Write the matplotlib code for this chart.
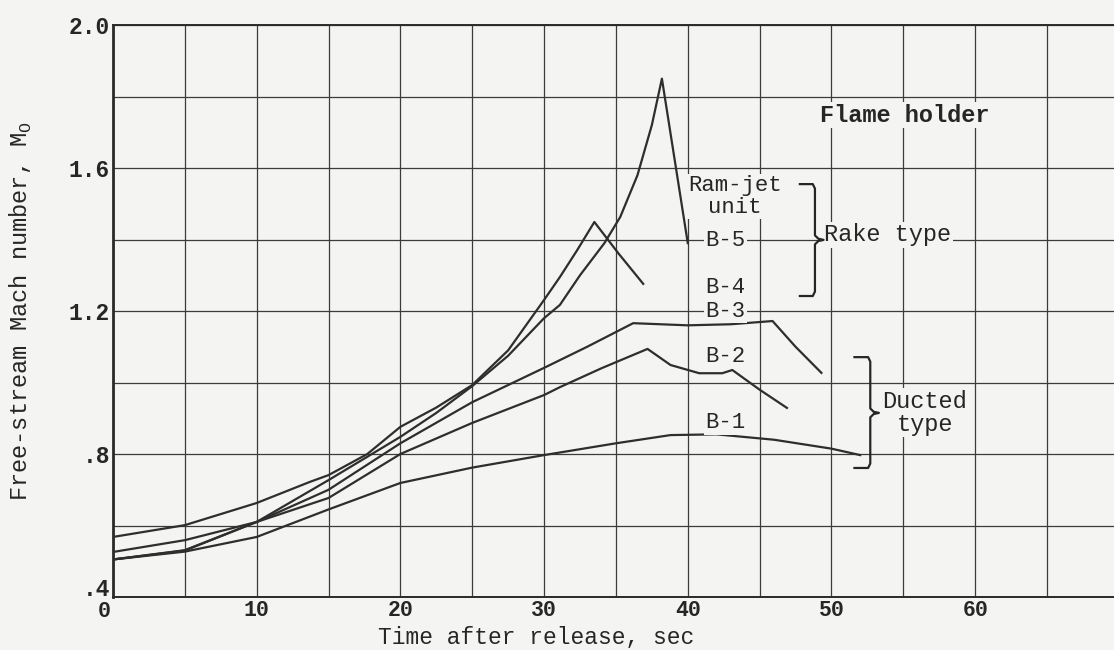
import numpy as np
import matplotlib.pyplot as plt
import matplotlib.transforms as mtransforms
from matplotlib.ticker import MultipleLocator, FixedLocator

plt.rcParams['font.family'] = ['Liberation Mono', 'DejaVu Sans']

# time (s) and free-stream Mach number
t_b1 = [0, 5, 10, 15, 20, 25, 30, 35, 38.8, 42, 46, 50, 52]
m_b1 = [0.505, 0.527, 0.568, 0.645, 0.719, 0.762, 0.797, 0.83, 0.853, 0.855, 0.84, 0.815, 0.797]

t_b2 = [0, 5, 10, 15, 20, 25, 30, 31.1, 34, 37.2, 38.8, 40.8, 42.4, 43.1, 45, 46.9]
m_b2 = [0.526, 0.559, 0.61, 0.677, 0.80, 0.887, 0.965, 0.987, 1.04, 1.094, 1.049, 1.026, 1.026, 1.035, 0.98, 0.929]

t_b3 = [0, 5, 10, 15, 20, 25, 30, 33, 36.2, 40, 43, 45.9, 47.5, 49.3]
m_b3 = [0.505, 0.531, 0.61, 0.70, 0.83, 0.945, 1.041, 1.10, 1.166, 1.16, 1.163, 1.172, 1.10, 1.027]

t_b4 = [0, 5, 10, 13.7, 15, 17.7, 20, 22.5, 25, 27.5, 30, 31.1, 32.3, 33.5, 35.2, 36.9]
m_b4 = [0.568, 0.601, 0.663, 0.722, 0.741, 0.80, 0.876, 0.93, 0.993, 1.09, 1.231, 1.295, 1.37, 1.449, 1.36, 1.276]

t_b5 = [0, 5, 10, 15, 20, 22.5, 25, 27.5, 30, 31.1, 32.5, 34.2, 35.3, 36.5, 37.5, 38.2, 40.0]
m_b5 = [0.505, 0.53, 0.61, 0.727, 0.848, 0.915, 0.99, 1.075, 1.18, 1.217, 1.30, 1.39, 1.463, 1.58, 1.72, 1.85, 1.39]

curves = [(t_b1, m_b1), (t_b2, m_b2), (t_b3, m_b3), (t_b4, m_b4), (t_b5, m_b5)]

unit_labels = ['B-5', 'B-4', 'B-3', 'B-2', 'B-1']
unit_label_pos = [(42.6, 1.396), (42.6, 1.267), (42.6, 1.200), (42.6, 1.074), (42.6, 0.887)]

paper = '#f4f4f2'
ink = '#2e2e2e'
txt = '#262626'

fig = plt.figure(figsize=(11.14, 6.5), dpi=100, facecolor=paper)
ax = fig.add_axes([0.1014, 0.0815, 0.8986, 0.88])
ax.set_facecolor(paper)

for t, m in curves:
    ax.plot(t, m, color=ink, lw=1.6, zorder=3)

ax.set_xlim(0, 69.66)
ax.set_ylim(0.4, 2.0)
ax.xaxis.set_major_locator(FixedLocator([0, 10, 20, 30, 40, 50, 60]))
ax.xaxis.set_minor_locator(MultipleLocator(5))
ax.yaxis.set_major_locator(FixedLocator([0.4, 0.8, 1.2, 1.6, 2.0]))
ax.yaxis.set_minor_locator(MultipleLocator(0.2))
ax.set_yticklabels(['.4', '.8', '1.2', '1.6', '2.0'])
ax.grid(which='both', color='#3c3c3c', lw=0.9)
ax.set_axisbelow(True)
ax.tick_params(which='both', length=0, colors=txt)
ax.tick_params(axis='x', pad=2, labelsize=15.5)
ax.tick_params(axis='y', pad=2, labelsize=16.5)
for lab in ax.get_xticklabels() + ax.get_yticklabels():
    lab.set_fontweight('bold')

# nudge the two labels that meet at the corner apart
xlabs = ax.get_xticklabels()
ylabs = ax.get_yticklabels()
xlabs[0].set_transform(xlabs[0].get_transform() +
                       mtransforms.ScaledTranslation(-9 / 100, -1 / 100, fig.dpi_scale_trans))
ylabs[0].set_transform(ylabs[0].get_transform() +
                       mtransforms.ScaledTranslation(0, 10 / 100, fig.dpi_scale_trans))

ax.spines['right'].set_visible(False)
ax.spines['left'].set_linewidth(2.0)
ax.spines['bottom'].set_linewidth(1.4)
ax.spines['top'].set_linewidth(1.4)
for side in ['left', 'bottom', 'top']:
    ax.spines[side].set_color('#2a2a2a')

ax.set_xlabel('Time after release, sec', fontsize=16.5, color=txt)
ax.xaxis.set_label_coords(0.4226, -0.051)
ax.set_ylabel(r'Free-stream Mach number, M$_\mathregular{O}$', fontsize=17, color=txt)
ax.yaxis.set_label_coords(-0.079, 0.5)

box = dict(facecolor=paper, edgecolor='none', pad=1)
ax.text(55.1, 1.748, 'Flame holder', fontsize=17, ha='center', va='center',
        color=txt, weight='bold', bbox=box)
ax.text(43.3, 1.52, 'Ram-jet\nunit', fontsize=16, ha='center', va='center',
        color=txt, linespacing=1.05, bbox=box)
for lab, (x, y) in zip(unit_labels, unit_label_pos):
    ax.text(x, y, lab, fontsize=16, ha='center', va='center', color=txt, bbox=box)
ax.text(49.5, 1.413, 'Rake type', fontsize=17, ha='left', va='center', color=txt, bbox=box)
ax.text(56.5, 0.915, 'Ducted\ntype', fontsize=17, ha='center', va='center',
        color=txt, linespacing=1.0, bbox=box)


def brace(x, hook, y0, y1, ytip, tip):
    # right-pointing curly brace drawn as a polyline
    r = (y1 - y0) * 0.04
    xs = [hook, x - 0.15, x, x, x + tip * 0.4, x + tip, x + tip * 0.4, x, x, x - 0.15, hook]
    ys = [y1, y1, y1 - r, ytip + r, ytip + r * 0.25, ytip, ytip - r * 0.25, ytip - r, y0 + r, y0, y0]
    ax.plot(xs, ys, color=txt, lw=1.6, zorder=4)


brace(48.85, 47.8, 1.242, 1.555, 1.399, 0.6)
brace(52.7, 51.6, 0.761, 1.071, 0.915, 0.6)

fig.savefig('out.png', dpi=100, facecolor=paper)
